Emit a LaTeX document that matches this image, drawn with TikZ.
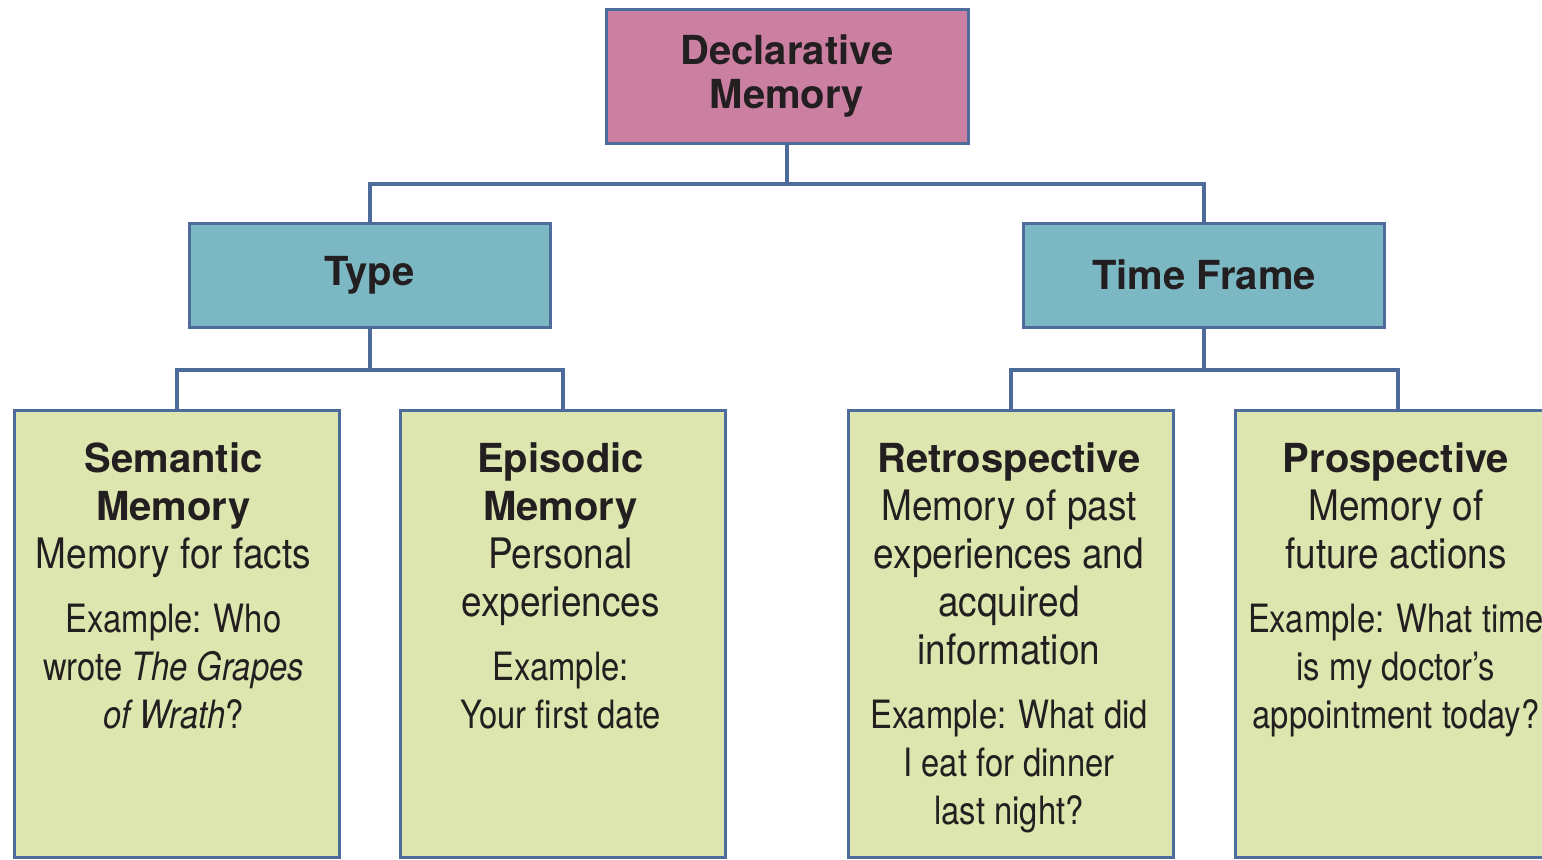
\documentclass[tikz,border=0pt]{standalone}
\usepackage{fontspec}
\usetikzlibrary{positioning}

\newfontfamily\headfont{TeX Gyre Heros}
\newfontfamily\descfamily[FakeStretch=0.88]{TeX Gyre Heros}
\newfontfamily\condfont[FakeStretch=0.84]{TeX Gyre Heros}

\definecolor{edgeblue}{HTML}{4D6C9B}
\definecolor{rootpink}{HTML}{CB7FA1}
\definecolor{branchteal}{HTML}{7BB8C3}
\definecolor{leafgreen}{HTML}{DDE6AE}
\definecolor{inkblack}{HTML}{231F20}

\newcommand\hdfnt{\headfont\bfseries\fontsize{20}{24}\selectfont}
\newcommand\descfnt{\descfamily\fontsize{21}{24}\selectfont}
\newcommand\exfnt{\condfont\fontsize{19.5}{24}\selectfont}

\tikzset{
  box/.style={draw=edgeblue, line width=1.5pt, inner sep=0pt, text=inkblack},
  root/.style={box, fill=rootpink, minimum width=181pt, minimum height=67pt,
    align=center, font={\headfont\bfseries\fontsize{20}{22}\selectfont}},
  branch/.style={box, fill=branchteal, minimum width=180.5pt, minimum height=52pt,
    font=\hdfnt},
  leaf/.style={box, fill=leafgreen, minimum width=162.5pt, minimum height=223.5pt},
  leaftext/.style={align=center, inner sep=0pt, text=inkblack, font=\descfnt},
  link/.style={edgeblue, line width=2pt}
}

\begin{document}
\begin{tikzpicture}[x=0.5pt,y=-0.5pt]
  \useasboundingbox (0,0) rectangle (1542,859);
  \clip (0,0) rectangle (1542,859);

  % top of the tree
  \node[root] (decl) at (787,76) {Declarative\\Memory};
  \node[branch] (type) at (369.5,275) {Type};
  \node[branch] (time) at (1204,275) {Time Frame};

  % leaves
  \node[leaf] (sem) at (176.5,633.5) {};
  \node[leaf] (epi) at (562.5,633.5) {};
  \node[leaf] (ret) at (1011,633.5) {};
  \node[leaf] (pro) at (1398,633.5) {};

  \node[leaftext, below=17pt of sem.north, xshift=-1.5pt] (semtxt)
    {\hdfnt Semantic\\ \hdfnt Memory\\ \descfnt Memory for facts\\[8pt]
     \exfnt Example: Who\\ \exfnt wrote \textit{The Grapes}\\ \exfnt\textit{of Wrath}?};
  \node[leaftext, below=17pt of epi.north, xshift=-1pt] (epitxt)
    {\hdfnt Episodic\\ \hdfnt Memory\\ \descfnt Personal\\ \descfnt experiences\\[8pt]
     \exfnt Example:\\ \exfnt Your first date};
  \node[leaftext, below=17pt of ret.north, xshift=-1pt] (rettxt)
    {\hdfnt Retrospective\\ \descfnt Memory of past\\ \descfnt experiences and\\
     \descfnt acquired\\ \descfnt information\\[8pt]
     \exfnt Example: What did\\ \exfnt I eat for dinner\\ \exfnt last night?};
  \node[leaftext, below=17pt of pro.north, xshift=-1pt] (protxt)
    {\hdfnt Prospective\\ \descfnt Memory of\\ \descfnt future actions\\[8pt]
     \exfnt Example: What time\\ \exfnt is my doctor’s\\ \exfnt appointment today?};

  % connectors
  \coordinate[below=19.5pt of decl.south] (topbus);
  \coordinate[below=20.5pt of type.south] (typebus);
  \coordinate[below=20.5pt of time.south] (timebus);
  \draw[link] (decl.south) -- (topbus);
  \draw[link] (type.north) |- (topbus) -| (time.north);
  \draw[link] (type.south) -- (typebus);
  \draw[link] (sem.north) |- (typebus) -| (epi.north);
  \draw[link] (time.south) -- (timebus);
  \draw[link] (ret.north) |- (timebus) -| (pro.north);
\end{tikzpicture}
\end{document}
